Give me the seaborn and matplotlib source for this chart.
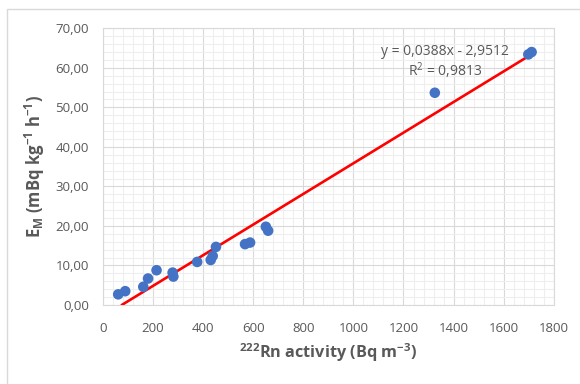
import numpy as np
import pandas as pd
import matplotlib
matplotlib.use("Agg")
import matplotlib.pyplot as plt
import seaborn as sns
from matplotlib.ticker import FuncFormatter, MultipleLocator
from matplotlib.patches import Rectangle

# data
rn_activity = [62, 90, 162, 181, 215, 279, 282, 377, 431, 439, 452, 568, 588, 651, 660, 1325, 1698, 1711]
em_rate = [2.7, 3.5, 4.6, 6.7, 8.8, 8.2, 7.2, 10.9, 11.4, 12.4, 14.7, 15.4, 15.8, 19.8, 18.8, 53.7, 63.4, 64.0]

# Excel trendline
slope = 0.0388
intercept = -2.9512
r_squared = 0.9813

sns.set_style("white")
plt.rcParams['font.family'] = ['Open Sans', 'DejaVu Sans']
plt.rcParams['mathtext.default'] = 'regular'

gray_txt = '#595959'

df = pd.DataFrame({'rn': rn_activity, 'em': em_rate})
# trendline over the data range, cut where it leaves the plot area (y < 0)
x_start = max(df['rn'].min(), -intercept / slope)
x_fit = np.linspace(x_start, df['rn'].max(), 50)
fit_df = pd.DataFrame({'rn': x_fit, 'em': slope * x_fit + intercept})

fig = plt.figure(figsize=(5.8, 3.84), dpi=100)
ax = fig.add_axes([0.177, 0.2057, 0.778, 0.7205])

# chart frame
fig.patches.append(Rectangle((7 / 580, -0.1), 1.2, 1.1 - 9 / 384, transform=fig.transFigure,
                             fill=False, edgecolor='#d9d9d9', linewidth=1.0))

sns.lineplot(data=fit_df, x='rn', y='em', ax=ax, color='#ff0000', linewidth=1.9, zorder=3)
sns.scatterplot(data=df, x='rn', y='em', ax=ax, color='#4472c4', s=58, edgecolor='none', zorder=4)

ax.set_xlim(0, 1800)
ax.set_ylim(0, 70)
ax.xaxis.set_major_locator(MultipleLocator(200))
ax.xaxis.set_minor_locator(MultipleLocator(40))
ax.yaxis.set_major_locator(MultipleLocator(10))
ax.yaxis.set_minor_locator(MultipleLocator(2))
ax.yaxis.set_major_formatter(FuncFormatter(lambda v, p: f"{v:.2f}".replace('.', ',')))

ax.grid(which='major', color='#d9d9d9', linewidth=0.8, zorder=0)
ax.grid(which='minor', color='#eeeeee', linewidth=0.8, zorder=0)
ax.set_axisbelow(True)
for s in ax.spines.values():
    s.set_color('#d9d9d9')
    s.set_linewidth(0.8)

ax.tick_params(axis='both', which='both', length=0, labelsize=9.5, colors=gray_txt)
ax.tick_params(axis='y', pad=10)
ax.tick_params(axis='x', pad=12)

ax.set_xlabel('$^{222}$Rn activity (Bq m$^{-3}$)', fontsize=11.7, fontweight='bold', color=gray_txt, labelpad=5)
ax.set_ylabel('E$_M$ (mBq kg$^{-1}$ h$^{-1}$)', fontsize=12, fontweight='bold', color=gray_txt, labelpad=6)

eq = f"y = {slope:.4f}x - {abs(intercept):.4f}".replace('.', ',')
r2 = f"R$^2$ = {r_squared:.4f}".replace('.', ',')
ax.text(1365, 64.2, eq, ha='center', va='center', fontsize=10, color=gray_txt)
ax.text(1365, 59.2, r2, ha='center', va='center', fontsize=10, color=gray_txt)

fig.savefig('out.png', dpi=100)
